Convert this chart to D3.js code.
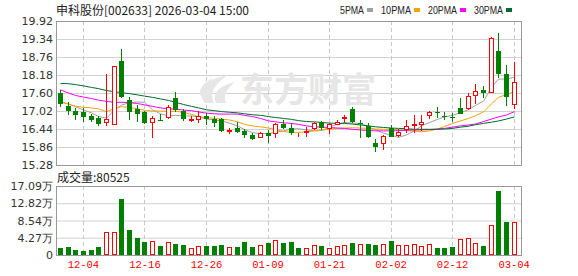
<!DOCTYPE html>
<html><head><meta charset="utf-8">
<script src="https://cdn.jsdelivr.net/npm/d3@7"></script>
<style>body{margin:0;background:#fff}svg{display:block}</style>
</head><body>
<svg id="c" width="578" height="276"></svg>
<script>
const title = "申科股份[002633] 2026-03-04 15:00";
const dates = ["12-01","12-02","12-03","12-04","12-05","12-08","12-09","12-10","12-11","12-12",
 "12-15","12-16","12-17","12-18","12-19","12-22","12-23","12-24","12-25","12-26",
 "12-29","12-30","12-31","01-05","01-06","01-07","01-08","01-09","01-12","01-13",
 "01-14","01-15","01-16","01-19","01-20","01-21","01-22","01-23","01-26","01-27",
 "01-28","01-29","01-30","02-02","02-03","02-04","02-05","02-06","02-09","02-10",
 "02-11","02-12","02-13","02-24","02-25","02-26","02-27","03-02","03-03","03-04"];
const open = [17.61,17.18,17.02,17.00,16.87,16.80,16.66,16.61,18.63,17.37,
 17.08,17.00,16.66,16.72,16.84,17.43,17.03,16.74,16.75,16.86,
 16.76,16.76,16.38,16.48,16.39,16.25,16.17,16.30,16.30,16.59,
 16.48,16.20,16.33,16.48,16.68,16.46,16.60,16.78,17.10,16.64,
 16.54,16.00,15.98,16.46,16.25,16.43,16.58,16.61,16.89,16.98,
 16.87,16.84,17.11,17.11,17.54,17.69,17.63,18.95,18.22,17.24];
const high = [17.70,17.30,17.11,17.11,16.92,16.86,18.21,18.47,19.02,17.48,
 17.21,17.02,16.86,16.91,17.21,17.64,17.07,16.86,17.03,16.95,
 16.86,16.80,16.48,16.66,16.43,16.30,16.35,16.41,16.62,16.73,
 16.62,16.32,16.52,16.68,16.71,16.64,16.72,16.88,17.16,16.73,
 16.64,16.11,16.25,16.57,16.43,16.73,16.89,16.88,17.02,17.15,
 17.00,16.97,17.43,17.61,17.90,17.83,19.40,19.54,18.49,18.60];
const low = [17.16,16.89,16.73,16.68,16.68,16.55,16.55,16.61,17.43,16.73,
 16.66,16.60,16.14,16.70,16.75,17.00,16.71,16.66,16.64,16.58,
 16.51,16.35,16.27,16.30,16.16,16.09,16.14,16.00,16.14,16.43,
 16.25,16.17,16.19,16.41,16.41,16.27,16.57,16.64,16.62,16.14,
 16.14,15.71,15.76,16.17,16.17,16.32,16.32,16.38,16.75,16.80,
 16.72,16.68,16.91,17.04,17.26,17.45,17.60,18.07,17.18,17.07];
const close = [17.25,17.03,16.89,16.84,16.74,16.60,16.76,18.47,17.48,17.00,
 16.92,16.63,16.80,16.70,17.14,17.05,16.75,16.76,16.87,16.75,
 16.62,16.38,16.40,16.35,16.25,16.12,16.32,16.21,16.59,16.46,
 16.30,16.22,16.38,16.63,16.48,16.60,16.68,16.84,16.68,16.60,
 16.17,15.87,16.21,16.19,16.35,16.54,16.60,16.68,17.00,16.96,
 16.86,16.83,16.93,17.50,17.66,17.61,19.36,18.20,17.47,17.95];
const volume = [18100,20600,12400,9900,12400,19800,57000,57000,138700,61900,
 42100,33000,34700,22300,32200,27200,24800,16600,22300,22300,
 22300,24800,19100,19800,32200,19800,24800,29700,37200,29700,
 32200,17300,16600,24000,22300,17300,22300,24000,29700,27200,
 27200,24800,27200,34700,24000,24000,27200,21500,26500,17300,
 17300,19800,38900,41400,29000,22300,73600,158500,81700,80525];
const volUp = [0,0,0,0,0,0,1,1,0,0, 0,0,1,0,1,0,0,1,1,0, 0,0,1,0,0,0,1,0,1,0,
 0,0,1,1,0,1,1,1,0,1, 0,0,1,0,1,1,1,1,1,0, 0,0,1,1,1,0,1,0,0,1];
const ma5 = [17.31,17.25,17.16,17.05,16.96,16.84,16.79,17.05,17.21,17.29,
 17.31,17.30,17.06,16.93,16.86,16.88,16.86,16.86,16.83,16.76,
 16.73,16.70,16.63,16.54,16.42,16.32,16.29,16.30,16.33,16.38,
 16.44,16.45,16.41,16.38,16.39,16.50,16.60,16.65,16.63,16.62,
 16.50,16.41,16.31,16.23,16.17,16.25,16.38,16.54,16.65,16.75,
 16.83,16.88,16.96,17.06,17.20,17.34,17.78,18.05,18.05,18.11];
const ma10 = [17.32,17.24,17.17,17.14,17.12,17.09,17.00,17.10,17.16,17.13,
 17.09,17.04,17.02,17.02,17.00,17.02,16.97,16.91,16.84,16.81,
 16.78,16.76,16.73,16.67,16.59,16.54,16.51,16.47,16.42,16.36,
 16.33,16.33,16.35,16.38,16.41,16.43,16.46,16.47,16.48,16.47,
 16.46,16.44,16.43,16.43,16.41,16.39,16.37,16.35,16.38,16.44,
 16.52,16.62,16.70,16.78,16.87,16.99,17.25,17.46,17.55,17.65];
const ma20 = [17.70,17.60,17.52,17.47,17.42,17.37,17.33,17.30,17.30,17.29,
 17.26,17.22,17.17,17.12,17.09,17.08,17.05,17.03,16.99,16.95,
 16.93,16.92,16.92,16.92,16.88,16.84,16.78,16.70,16.67,16.64,
 16.62,16.59,16.54,16.51,16.50,16.49,16.47,16.46,16.43,16.41,
 16.39,16.38,16.38,16.38,16.39,16.40,16.41,16.41,16.42,16.44,
 16.46,16.50,16.54,16.57,16.60,16.68,16.76,16.83,16.89,17.00];
const ma30 = [17.91,17.90,17.87,17.83,17.78,17.74,17.68,17.64,17.61,17.58,
 17.54,17.50,17.46,17.41,17.36,17.30,17.23,17.17,17.12,17.06,
 17.03,17.00,16.98,16.96,16.93,16.90,16.88,16.84,16.81,16.78,
 16.75,16.71,16.68,16.67,16.65,16.63,16.62,16.62,16.60,16.57,
 16.54,16.51,16.49,16.47,16.46,16.45,16.43,16.43,16.43,16.43,
 16.44,16.46,16.50,16.53,16.58,16.62,16.66,16.70,16.76,16.83];
const priceTicks = [19.92,19.34,18.76,18.18,17.60,17.02,16.44,15.86,15.28];
const volTicks = [170900,128200,85400,42700,0];
const volTickLabels = ["17.09万","12.82万","8.54万","4.27万","0"];
const xLabels = ["12-04","12-16","12-26","01-09","01-21","02-02","02-12","03-04"];
const maNames = ["5PMA","10PMA","20PMA","30PMA"];
const lastVolume = 80525;

const RED = "#ff0000", GREEN = "#008000";
const maColors = ["#a0a0a0","#f5a300","#ff00ff","#006b2e"];
const maSeries = [ma5, ma10, ma20, ma30];

const svg = d3.select("#c");
const L = 56, R = 522, PT = 21, PB = 165, VT = 186, VB = 255;
const x = d3.scaleBand().domain(dates).range([56.5, 518]).paddingInner(0.35).paddingOuter(0.175);
const yP = d3.scaleLinear().domain([15.28, 19.92]).range([PB, PT]);
const yV = d3.scaleLinear().domain([0, 170900]).range([VB, VT]);
const cx = d => Math.round(x(d)) + 2.5;

// horizontal grid
function hgrid(scale, vals) {
  const g = svg.append("g").attr("transform", `translate(${L},0)`)
    .call(d3.axisRight(scale).tickValues(vals).tickSize(R - L).tickFormat(""));
  g.select(".domain").remove();
  g.selectAll("line").attr("stroke", "#d2d2d2");
}
hgrid(yP, priceTicks);
hgrid(yV, volTicks);

// vertical dashed grid
[[PT, PB], [VT, VB]].forEach(([a, b]) => {
  svg.append("g").selectAll("line").data(xLabels).join("line")
    .attr("x1", d => cx(d)).attr("x2", d => cx(d)).attr("y1", a).attr("y2", b)
    .attr("stroke", "#c8c8c8").attr("stroke-dasharray", "4,3");
});

// watermark
const wm = svg.append("g").attr("fill", "#e6e6e6");
wm.append("path").attr("d", "M205,103 C196,92 203,80 228,75 C214,84 209,94 214,103 Z");
wm.append("path").attr("d", "M216,103 C212,94 218,86 235,82 C226,89 223,96 226,103 Z");
wm.append("path").attr("d", "M200,95 C199,88 204,82 214,78 C206,85 204,90 205,97 Z");
wm.append("text").attr("x", 240).attr("y", 102).attr("font-size", 34).attr("font-weight", "bold")
  .attr("font-family", "'Noto Sans CJK SC', sans-serif").text("东方财富");

// frames
[[PT, PB], [VT, VB]].forEach(([a, b]) => {
  svg.append("rect").attr("x", L + 0.5).attr("y", a + 0.5).attr("width", R - L - 1).attr("height", b - a)
    .attr("fill", "none").attr("stroke", "#999");
});

// y labels
function ylabels(scale, vals, fmt) {
  const g = svg.append("g").attr("transform", `translate(${L},0)`)
    .call(d3.axisLeft(scale).tickValues(vals).tickSize(0).tickPadding(3).tickFormat(fmt));
  g.select(".domain").remove();
  g.selectAll("text").attr("font-family", "'DejaVu Sans', sans-serif").attr("font-size", 11).attr("fill", "#333");
}
ylabels(yP, priceTicks, d3.format(".2f"));
ylabels(yV, volTicks, (d, i) => volTickLabels[i]);

// x labels
const xa = svg.append("g").attr("transform", `translate(0,${VB})`)
  .call(d3.axisBottom(x).tickValues(xLabels).tickSize(0).tickPadding(6));
xa.select(".domain").remove();
xa.selectAll("text").attr("font-family", "'Liberation Mono', monospace").attr("font-size", 10.5).attr("fill", RED);

// MA lines
maSeries.forEach((s, k) => {
  const line = d3.line().x((d, i) => cx(dates[i])).y(d => yP(d));
  svg.append("path").datum(s).attr("d", line).attr("fill", "none")
    .attr("stroke", maColors[k]).attr("stroke-width", 1);
});

// candles
const idx = d3.range(dates.length);
const cg = svg.append("g");
idx.forEach(i => {
  const up = close[i] >= open[i];
  const col = up ? RED : GREEN;
  const bx = Math.round(x(dates[i]));
  const c = bx + 2.5;
  const yt = Math.round(yP(Math.max(open[i], close[i])));
  const yb = Math.round(yP(Math.min(open[i], close[i])));
  cg.append("line").attr("x1", c).attr("x2", c)
    .attr("y1", Math.round(yP(high[i]))).attr("y2", Math.round(yP(low[i]))).attr("stroke", col);
  if (up) {
    cg.append("rect").attr("x", bx + 0.5).attr("y", yt + 0.5).attr("width", 4).attr("height", Math.max(0, yb - yt))
      .attr("fill", "#fff").attr("stroke", RED);
  } else {
    cg.append("rect").attr("x", bx).attr("y", yt).attr("width", 5).attr("height", Math.max(1, yb - yt))
      .attr("fill", GREEN).attr("shape-rendering", "crispEdges");
  }
});

// volume bars
const vg = svg.append("g");
idx.forEach(i => {
  const bx = Math.round(x(dates[i]));
  const yt = Math.round(yV(volume[i]));
  if (volUp[i]) {
    vg.append("rect").attr("x", bx + 0.5).attr("y", yt + 0.5).attr("width", 4).attr("height", VB - yt - 1)
      .attr("fill", "#fff").attr("stroke", RED);
  } else {
    vg.append("rect").attr("x", bx).attr("y", yt).attr("width", 5).attr("height", VB - yt)
      .attr("fill", GREEN).attr("shape-rendering", "crispEdges");
  }
});

// title
svg.append("text").attr("x", 56).attr("y", 14.5).attr("font-size", 12)
  .attr("font-family", "'Noto Sans CJK SC', 'DejaVu Sans', sans-serif").attr("fill", "#222").text(title);

// legend
const legX = [340, 381, 428, 474], legW = [24, 30, 29, 29];
maNames.forEach((n, k) => {
  svg.append("text").attr("x", legX[k]).attr("y", 14).attr("font-size", 11)
    .attr("font-family", "'Liberation Sans', Arial, sans-serif").attr("fill", "#222")
    .attr("textLength", legW[k]).attr("lengthAdjust", "spacingAndGlyphs").text(n);
  svg.append("rect").attr("x", legX[k] + legW[k] + 3).attr("y", 8).attr("width", 6).attr("height", 4)
    .attr("fill", maColors[k]);
});

// volume title
svg.append("text").attr("x", 57).attr("y", 181.5).attr("font-size", 12)
  .attr("font-family", "'Noto Sans CJK SC', 'DejaVu Sans', sans-serif").attr("fill", "#222")
  .text("成交量:" + lastVolume);
</script>
</body></html>
